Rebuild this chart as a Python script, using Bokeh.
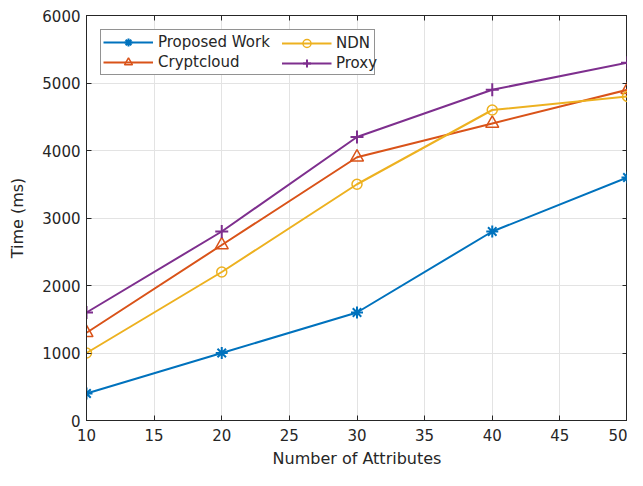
from bokeh.plotting import figure
from bokeh.models import LinearAxis, Legend, LegendItem, FixedTicker, Range1d
from bokeh.embed import file_html
from bokeh.resources import INLINE

x = [10, 20, 30, 40, 50]
proposed = [400, 1000, 1600, 2800, 3600]
cryptcloud = [1300, 2600, 3900, 4400, 4900]
ndn = [1000, 2200, 3500, 4600, 4800]
proxy = [1600, 2800, 4200, 4900, 5300]

x_ticks = [10, 15, 20, 25, 30, 35, 40, 45, 50]
y_ticks = [0, 1000, 2000, 3000, 4000, 5000, 6000]

FONT = "DejaVu Sans"
TXT = "#262626"

p = figure(width=627, height=470, output_backend="svg", toolbar_location=None,
           x_range=Range1d(10, 50), y_range=Range1d(0, 6000),
           min_border_left=86, min_border_right=0, min_border_top=15, min_border_bottom=48)
p.outline_line_color = TXT
p.outline_line_width = 1

for ax in [p.xaxis[0], p.yaxis[0]]:
    ax.major_label_text_font = FONT
    ax.major_label_text_font_size = "15px"
    ax.major_label_text_color = TXT
    ax.axis_label_text_font = FONT
    ax.axis_label_text_font_size = "16px"
    ax.axis_label_text_font_style = "normal"
    ax.axis_label_text_color = TXT
    ax.axis_line_color = TXT
    ax.major_tick_line_color = TXT
    ax.major_tick_in = 5
    ax.major_tick_out = 0
    ax.minor_tick_line_color = None
p.xaxis.ticker = FixedTicker(ticks=x_ticks)
p.yaxis.ticker = FixedTicker(ticks=y_ticks)
p.xaxis.axis_label = "Number of Attributes"
p.yaxis.axis_label = "Time (ms)"
p.xaxis.major_label_standoff = 8
p.xaxis.axis_label_standoff = 5
p.yaxis.major_label_standoff = 6
p.yaxis.axis_label_standoff = 12

top = LinearAxis(ticker=FixedTicker(ticks=x_ticks),
                 major_label_overrides={t: "" for t in x_ticks},
                 major_tick_in=5, major_tick_out=0, minor_tick_line_color=None,
                 axis_line_color=TXT, major_tick_line_color=TXT)
right = LinearAxis(ticker=FixedTicker(ticks=y_ticks),
                   major_label_overrides={t: "" for t in y_ticks},
                   major_tick_in=5, major_tick_out=0, minor_tick_line_color=None,
                   axis_line_color=TXT, major_tick_line_color=TXT)
p.add_layout(top, "above")
p.add_layout(right, "right")

p.grid.grid_line_color = "#e3e3e3"
p.grid.grid_line_width = 1
p.xgrid.ticker = FixedTicker(ticks=x_ticks)
p.ygrid.ticker = FixedTicker(ticks=y_ticks)

c1, c2, c3, c4 = "#0072BD", "#D95319", "#EDB120", "#7E2F8E"
lw = 2
l1 = p.line(x, proposed, color=c1, line_width=lw)
m1 = p.scatter(x, proposed, marker="asterisk", size=12, line_color=c1, line_width=2)
l2 = p.line(x, cryptcloud, color=c2, line_width=lw)
m2 = p.scatter(x, cryptcloud, marker="triangle", size=13, line_color=c2, fill_color=None, line_width=1.5)
l3 = p.line(x, ndn, color=c3, line_width=lw)
m3 = p.scatter(x, ndn, marker="circle", size=10, line_color=c3, fill_color=None, line_width=1.5)
l4 = p.line(x, proxy, color=c4, line_width=lw)
m4 = p.scatter(x, proxy, marker="cross", size=13, line_color=c4, line_width=2)


def style(lg, label_width, margin):
    lg.margin = margin
    lg.padding = 2
    lg.spacing = -2
    lg.glyph_width = 50
    lg.glyph_height = 20
    lg.label_height = 20
    lg.label_width = label_width
    lg.label_text_font = FONT
    lg.label_text_font_size = "15px"
    lg.label_text_color = TXT
    lg.label_standoff = 5


# first column carries the box, second column is overlaid without a box
legend_a = Legend(items=[
    LegendItem(label="Proposed Work", renderers=[l1, m1]),
    LegendItem(label="Cryptcloud", renderers=[l2, m2]),
], location="top_left")
style(legend_a, 214, 14)
legend_a.border_line_color = TXT
legend_a.border_line_width = 1
legend_a.background_fill_color = "white"
legend_a.background_fill_alpha = 1

legend_b = Legend(items=[
    LegendItem(label="NDN", renderers=[l3, m3]),
    LegendItem(label="Proxy", renderers=[l4, m4]),
], location="top_center")
style(legend_b, 96, 18)
legend_b.border_line_color = None
legend_b.background_fill_alpha = 0

p.add_layout(legend_a)
p.add_layout(legend_b)

open("out.html", "w").write(file_html(p, INLINE))
